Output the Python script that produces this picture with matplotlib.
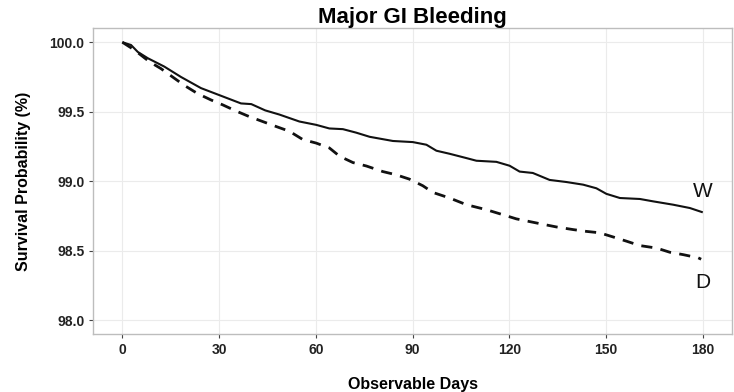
import matplotlib
matplotlib.use("Agg")
import matplotlib.pyplot as plt

plt.rcParams['font.family'] = ['Liberation Sans', 'DejaVu Sans']

# Kaplan-Meier curves
days_w = [0, 2.7, 4.8, 7.9, 13, 18.2, 24.4, 30.6, 36.8, 40, 44.3, 48.7, 54.9, 60.1,
          64.2, 68.4, 72.5, 76.7, 83.9, 90.1, 94.3, 97.4, 101.5, 106.7, 109.8, 116,
          120.1, 123.2, 127.3, 132.5, 137.7, 142.9, 147, 150.1, 154.3, 160.5, 164.6,
          170.8, 176, 180]
surv_w = [100.0, 99.98, 99.93, 99.885, 99.825, 99.75, 99.67, 99.615, 99.56, 99.555,
          99.51, 99.48, 99.43, 99.406, 99.38, 99.375, 99.35, 99.32, 99.29, 99.282,
          99.263, 99.22, 99.198, 99.167, 99.148, 99.14, 99.112, 99.07, 99.06, 99.01,
          98.995, 98.976, 98.95, 98.91, 98.88, 98.873, 98.856, 98.832, 98.808, 98.777]

days_d = [0, 3.7, 8.4, 12, 15.6, 19.2, 23.4, 27.5, 31.1, 35.3, 39.4, 43.5, 47.7, 51.8,
          56, 60.1, 64.2, 67.4, 71.5, 75.7, 80.8, 84.9, 89, 93.2, 96.3, 101.5, 106.7,
          112.9, 118, 122.2, 129.4, 134.6, 139.8, 143.9, 148, 152.2, 156.3, 160.5,
          165.7, 169.8, 173.9, 178.6, 179.5]
surv_d = [100.0, 99.945, 99.86, 99.81, 99.75, 99.69, 99.63, 99.585, 99.55, 99.505,
          99.465, 99.43, 99.394, 99.36, 99.30, 99.275, 99.24, 99.18, 99.135, 99.11,
          99.07, 99.047, 99.016, 98.968, 98.92, 98.88, 98.832, 98.796, 98.76, 98.73,
          98.696, 98.672, 98.653, 98.64, 98.63, 98.60, 98.57, 98.538, 98.52, 98.49,
          98.473, 98.45, 98.44]

x_ticks = [0, 30, 60, 90, 120, 150, 180]
y_ticks = [98.0, 98.5, 99.0, 99.5, 100.0]

fig = plt.figure(figsize=(7.34, 3.92), dpi=100)
ax = fig.add_axes([0.1271, 0.1471, 0.8699, 0.7807])

ax.plot(days_w, surv_w, color='#111111', linewidth=1.5, solid_capstyle='butt')
ax.plot(days_d, surv_d, color='#111111', linewidth=2.0, linestyle=(0, (4, 3)))

ax.text(180, 98.93, "W", fontsize=15, ha='center', va='center', color='#111111')
ax.text(180, 98.27, "D", fontsize=15, ha='center', va='center', color='#111111')

ax.set_xlim(-9, 189)
ax.set_ylim(97.9, 100.1)
ax.set_xticks(x_ticks)
ax.set_yticks(y_ticks)
ax.set_yticklabels([f"{v:.1f}" for v in y_ticks])
ax.grid(True, color='#EBEBEB', linewidth=0.8)
ax.set_axisbelow(True)

for spine in ax.spines.values():
    spine.set_color('#BDBDBD')
    spine.set_linewidth(1.0)

ax.tick_params(axis='both', colors='#444444', length=3, width=0.8,
               labelsize=10, labelcolor='#222222')
for lbl in ax.get_xticklabels() + ax.get_yticklabels():
    lbl.set_fontweight('bold')

ax.set_title("Major GI Bleeding", fontsize=16, fontweight='bold', pad=1)
ax.set_xlabel("Observable Days", fontsize=11.5, fontweight='bold', labelpad=14)
ax.set_ylabel("Survival Probability (%)", fontsize=11.5, fontweight='bold', labelpad=13)

fig.savefig("out.png", dpi=100)
